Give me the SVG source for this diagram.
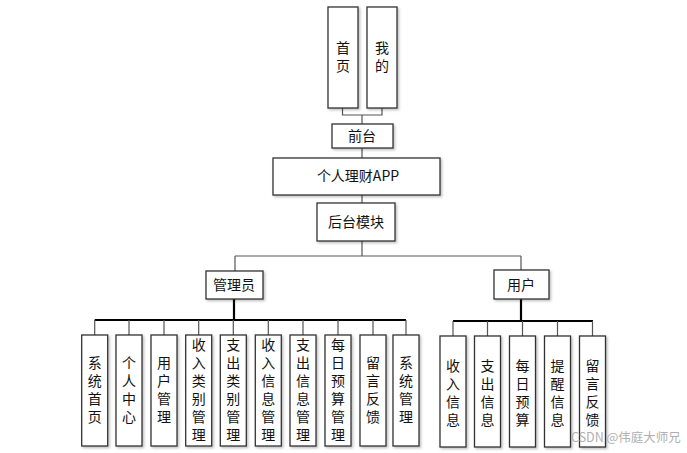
<svg xmlns="http://www.w3.org/2000/svg" width="687" height="453" viewBox="0 0 687 453">
<defs>
<filter id="sh" x="-20%" y="-20%" width="140%" height="140%">
<feDropShadow dx="1.5" dy="1.5" stdDeviation="0.8" flood-color="#000" flood-opacity="0.25"/>
</filter>
</defs>
<style>
.box{fill:#fff;stroke:#333;stroke-width:1.3;filter:url(#sh)}
.t{font-family:"Noto Sans CJK SC","Liberation Sans",sans-serif;font-size:14px;fill:#111;text-anchor:middle}
.v{font-family:"Noto Sans CJK SC","Liberation Sans",sans-serif;font-size:14px;fill:#111;text-anchor:middle;writing-mode:vertical-rl;letter-spacing:4px}
.ln{stroke:#555;stroke-width:1.2;fill:none}
.thk{stroke:#000;stroke-width:2.2;fill:none}
.wm{font-family:"Noto Sans CJK SC","Liberation Sans",sans-serif;font-size:12.5px;fill:#b0b0b0}
</style>
<rect width="687" height="453" fill="#fff"/>
<g id="connectors">
<path class="ln" d="M342.5 108V115H382V108M362 115V124M362 148V158M362 195V203M362 241V256M235 256H521M235 256V271M521 256V270"/>
<path class="thk" d="M234 299V320M94.7 320H406M521 299V321M453 321H593"/>
<path class="ln" d="M94.7 320V335M129 320V335M164 320V335M198.7 320V335M233.3 320V335M268.3 320V335M303 320V335M338 320V335M373 320V335M406 320V335"/>
<path class="ln" d="M453 321V336M487.5 321V336M522.5 321V336M557.5 321V336M592.5 321V336"/>
</g>
<g id="n_home"><rect class="box" x="328" y="7" width="30" height="101"/><text class="v" x="343" y="59">首页</text></g>
<g id="n_mine"><rect class="box" x="367" y="7" width="30" height="101"/><text class="v" x="382" y="59">我的</text></g>
<g id="n_front"><rect class="box" x="332" y="124" width="61" height="24"/><text class="t" x="362" y="141">前台</text></g>
<g id="n_app"><rect class="box" x="273" y="158" width="167" height="37"/><text class="t" x="358" y="181">个人理财APP</text></g>
<g id="n_back"><rect class="box" x="317" y="203" width="78" height="38"/><text class="t" x="356" y="227">后台模块</text></g>
<g id="n_admin"><rect class="box" x="206" y="271" width="57" height="28"/><text class="t" x="234" y="290">管理员</text></g>
<g id="n_user"><rect class="box" x="494" y="270" width="55" height="29"/><text class="t" x="521" y="290">用户</text></g>
<g id="a1"><rect class="box" x="81.7" y="335" width="26" height="111"/><text class="v" x="94.7" y="392">系统首页</text></g>
<g id="a2"><rect class="box" x="116" y="335" width="26" height="111"/><text class="v" x="129" y="392">个人中心</text></g>
<g id="a3"><rect class="box" x="151" y="335" width="26" height="111"/><text class="v" x="164" y="392">用户管理</text></g>
<g id="a4"><rect class="box" x="185.7" y="335" width="26" height="111"/><text class="v" x="198.7" y="392">收入类别管理</text></g>
<g id="a5"><rect class="box" x="220.3" y="335" width="26" height="111"/><text class="v" x="233.3" y="392">支出类别管理</text></g>
<g id="a6"><rect class="box" x="255.3" y="335" width="26" height="111"/><text class="v" x="268.3" y="392">收入信息管理</text></g>
<g id="a7"><rect class="box" x="290" y="335" width="26" height="111"/><text class="v" x="303" y="392">支出信息管理</text></g>
<g id="a8"><rect class="box" x="325" y="335" width="26" height="111"/><text class="v" x="338" y="392">每日预算管理</text></g>
<g id="a9"><rect class="box" x="360" y="335" width="26" height="111"/><text class="v" x="373" y="392">留言反馈</text></g>
<g id="a10"><rect class="box" x="393" y="335" width="26" height="111"/><text class="v" x="406" y="392">系统管理</text></g>
<g id="u1"><rect class="box" x="440" y="336" width="26" height="111"/><text class="v" x="453" y="395">收入信息</text></g>
<g id="u2"><rect class="box" x="474.5" y="336" width="26" height="111"/><text class="v" x="487.5" y="395">支出信息</text></g>
<g id="u3"><rect class="box" x="509.5" y="336" width="26" height="111"/><text class="v" x="522.5" y="395">每日预算</text></g>
<g id="u4"><rect class="box" x="544.5" y="336" width="26" height="111"/><text class="v" x="557.5" y="395">提醒信息</text></g>
<g id="u5"><rect class="box" x="579.5" y="336" width="26" height="111"/><text class="v" x="592.5" y="395">留言反馈</text></g>
<text class="wm" x="571" y="442">CSDN @伟庭大师兄</text>
</svg>
